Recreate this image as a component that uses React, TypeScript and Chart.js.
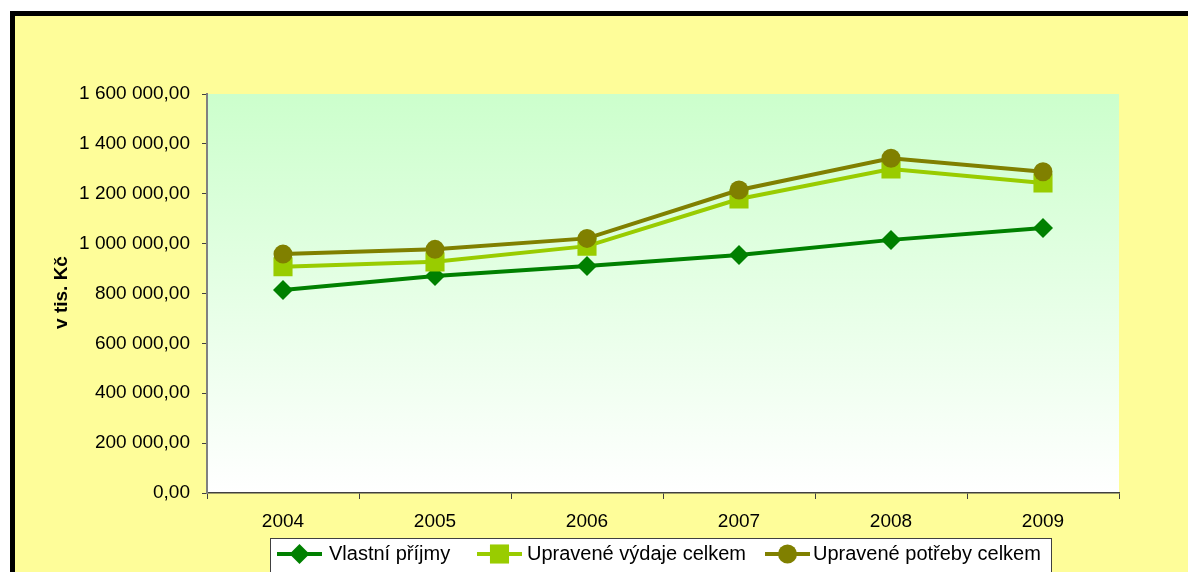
import React, { useEffect, useRef } from "react";
import { Chart, registerables } from "chart.js";

Chart.register(...registerables);

const categories = ["2004", "2005", "2006", "2007", "2008", "2009"];
const seriesNames = ["Vlastní příjmy", "Upravené výdaje celkem", "Upravené potřeby celkem"];
const vlastniPrijmy = [814000, 870000, 910000, 954000, 1015000, 1063000];
const upraveneVydaje = [907000, 927000, 990000, 1179000, 1299000, 1243000];
const upravenePotreby = [958000, 977000, 1021000, 1215000, 1342000, 1288000];
const yMin = 0;
const yMax = 1600000;
const yStep = 200000;
const yTitle = "v tis. Kč";

const FONT = '"Liberation Sans", Arial, sans-serif';
const W = 1188;
const H = 572;

function fmt(v: number): string {
  const s = Math.round(v).toString().replace(/\B(?=(\d{3})+(?!\d))/g, " ");
  return s + ",00";
}

const frameBg = {
  id: "frameBg",
  beforeDraw(chart: any) {
    const ctx = chart.ctx;
    const ca = chart.chartArea;
    ctx.save();
    ctx.fillStyle = "#ffffff";
    ctx.fillRect(0, 0, W, H);
    ctx.fillStyle = "#000000";
    ctx.fillRect(10, 11, W, H);
    ctx.fillStyle = "#FEFD99";
    ctx.fillRect(15, 16, W, H);
    const g = ctx.createLinearGradient(0, ca.top, 0, ca.bottom);
    g.addColorStop(0, "#CCFFCC");
    g.addColorStop(1, "#FFFFFF");
    ctx.fillStyle = g;
    ctx.fillRect(ca.left, ca.top, ca.right - ca.left, ca.bottom - ca.top);
    ctx.restore();
  },
};

function drawMarker(ctx: CanvasRenderingContext2D, style: string, x: number, y: number, r: number, color: string) {
  ctx.fillStyle = color;
  ctx.beginPath();
  if (style === "rectRot") {
    ctx.moveTo(x - r, y);
    ctx.lineTo(x, y - r);
    ctx.lineTo(x + r, y);
    ctx.lineTo(x, y + r);
    ctx.closePath();
  } else if (style === "rect") {
    const s = Math.SQRT1_2 * r;
    ctx.rect(x - s, y - s, 2 * s, 2 * s);
  } else {
    ctx.arc(x, y, r, 0, Math.PI * 2);
  }
  ctx.fill();
}

const extras = {
  id: "extras",
  afterDraw(chart: any) {
    const ctx = chart.ctx;
    ctx.save();
    // y-axis title
    ctx.translate(66.5, 292.5);
    ctx.rotate(-Math.PI / 2);
    ctx.font = "bold 19px " + FONT;
    ctx.fillStyle = "#000";
    ctx.textAlign = "center";
    ctx.textBaseline = "alphabetic";
    ctx.fillText(yTitle, 0, 0);
    ctx.restore();

    // legend
    ctx.save();
    ctx.fillStyle = "#ffffff";
    ctx.fillRect(270.5, 538.5, 781, 60);
    ctx.strokeStyle = "#404040";
    ctx.lineWidth = 1;
    ctx.strokeRect(270.5, 538.5, 781, 60);
    const ly = 554;
    const lineStarts = [277, 477, 765];
    const textStarts = [329, 527, 813];
    chart.data.datasets.forEach((ds: any, i: number) => {
      const x0 = lineStarts[i];
      const x1 = x0 + 45;
      ctx.strokeStyle = ds.borderColor;
      ctx.lineWidth = 4;
      ctx.beginPath();
      ctx.moveTo(x0, ly);
      ctx.lineTo(x1, ly);
      ctx.stroke();
      drawMarker(ctx, ds.pointStyle, (x0 + x1) / 2, ly, ds.pointRadius, ds.borderColor);
      ctx.fillStyle = "#000";
      ctx.font = "20px " + FONT;
      ctx.textAlign = "left";
      ctx.textBaseline = "middle";
      ctx.fillText(ds.label, textStarts[i], ly);
    });
    ctx.restore();
  },
};

export default function App() {
  const ref = useRef<HTMLCanvasElement>(null);
  useEffect(() => {
    if (!ref.current) return;
    const chart = new Chart(ref.current, {
      type: "line",
      data: {
        labels: categories,
        datasets: [
          {
            label: seriesNames[0],
            data: vlastniPrijmy,
            borderColor: "#008000",
            backgroundColor: "#008000",
            borderWidth: 4,
            pointStyle: "rectRot",
            pointRadius: 10,
            pointBorderWidth: 0,
            pointBackgroundColor: "#008000",
            tension: 0,
            order: 2,
          },
          {
            label: seriesNames[1],
            data: upraveneVydaje,
            borderColor: "#99CC00",
            backgroundColor: "#99CC00",
            borderWidth: 4,
            pointStyle: "rect",
            pointRadius: 13.5,
            pointBorderWidth: 0,
            pointBackgroundColor: "#99CC00",
            tension: 0,
            order: 1,
          },
          {
            label: seriesNames[2],
            data: upravenePotreby,
            borderColor: "#808000",
            backgroundColor: "#808000",
            borderWidth: 4,
            pointStyle: "circle",
            pointRadius: 9.5,
            pointBorderWidth: 0,
            pointBackgroundColor: "#808000",
            tension: 0,
            order: 0,
          },
        ] as any,
      },
      options: {
        responsive: false,
        animation: false,
        layout: { padding: { left: 0, top: 94, right: 69, bottom: 0 } },
        plugins: {
          legend: { display: false },
          tooltip: { enabled: false },
        },
        scales: {
          x: {
            type: "category",
            offset: true,
            grid: {
              display: true,
              drawOnChartArea: false,
              drawTicks: true,
              tickLength: 6,
              color: "#404040",
              offset: true,
            },
            border: { display: true, color: "#404040", width: 1.5 },
            ticks: {
              color: "#000",
              font: { family: FONT, size: 19 },
              padding: 11,
              maxRotation: 0,
              autoSkip: false,
            },
            afterFit: (s: any) => {
              s.height = H - 493;
            },
          },
          y: {
            min: yMin,
            max: yMax,
            grid: {
              display: true,
              drawOnChartArea: false,
              drawTicks: true,
              tickLength: 5,
              color: "#404040",
            },
            border: { display: true, color: "#808080", width: 2 },
            ticks: {
              stepSize: yStep,
              color: "#000",
              font: { family: FONT, size: 19 },
              padding: 12,
              callback: (v: any) => fmt(Number(v)),
            },
            afterFit: (s: any) => {
              s.width = 207;
            },
          },
        },
      } as any,
      plugins: [frameBg, extras],
    });
    return () => chart.destroy();
  }, []);
  return (
    <div style={{ position: "fixed", left: 0, top: 0, width: W, height: H, background: "#fff" }}>
      <canvas ref={ref} width={W} height={H} style={{ width: W, height: H, display: "block" }} />
    </div>
  );
}
